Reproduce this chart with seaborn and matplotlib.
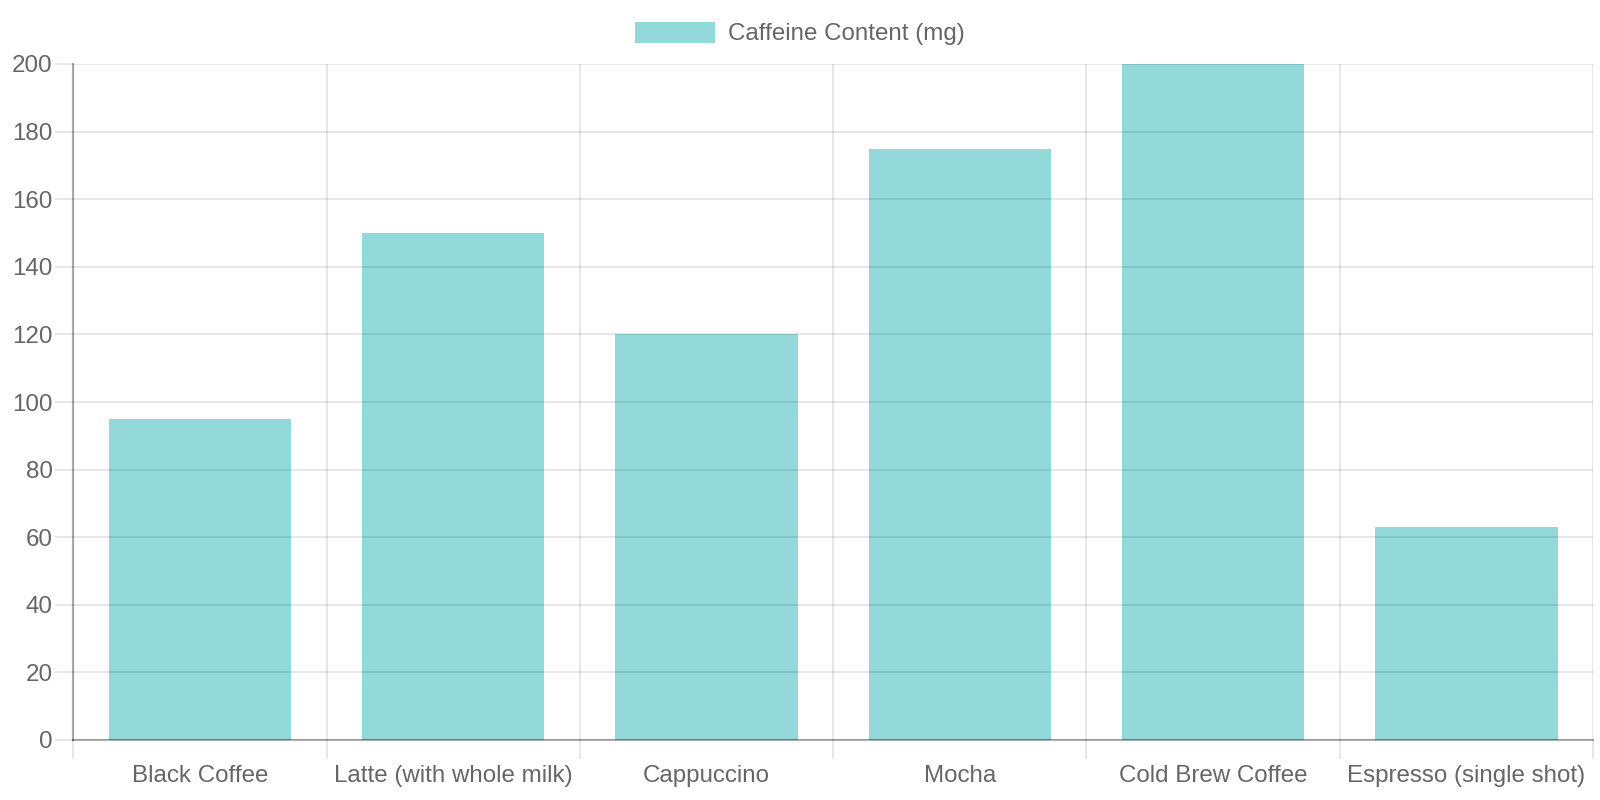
import matplotlib
matplotlib.use("Agg")
import matplotlib.pyplot as plt
import seaborn as sns
import pandas as pd

categories = ["Black Coffee", "Latte (with whole milk)", "Cappuccino", "Mocha",
              "Cold Brew Coffee", "Espresso (single shot)"]
caffeine_mg = [95, 150, 120, 175, 200, 63]
series_label = "Caffeine Content (mg)"
y_ticks = [0, 20, 40, 60, 80, 100, 120, 140, 160, 180, 200]

sns.set_style("white")
plt.rcParams['font.family'] = ['Liberation Sans', 'DejaVu Sans']

TEXT = "#666666"
GRID = (0, 0, 0, 0.12)
AXIS = (0, 0, 0, 0.32)
FS = 17.4

fig = plt.figure(figsize=(16, 8), dpi=100)
ax = fig.add_axes([73.3 / 1600, 1 - 740 / 800, (1593 - 73.3) / 1600, (740 - 64) / 800])

df = pd.DataFrame({"drink": categories, "mg": caffeine_mg})
sns.barplot(data=df, x="drink", y="mg", color=(75 / 255, 192 / 255, 192 / 255),
            saturation=1, alpha=0.6, width=0.72, linewidth=0, ax=ax,
            label=series_label, errorbar=None)

ax.set_xlim(-0.5, len(categories) - 0.5)
ax.set_ylim(0, 200)
ax.set_xlabel("")
ax.set_ylabel("")

ax.set_xticks(range(len(categories)))
ax.set_xticklabels(categories)
ax.set_xticks([i - 0.5 for i in range(len(categories) + 1)], minor=True)
ax.set_yticks(y_ticks)

ax.set_axisbelow(False)
ax.xaxis.grid(True, which="minor", color="black", alpha=0.12, linewidth=1.1)
ax.xaxis.grid(False, which="major")
ax.yaxis.grid(True, which="major", color="black", alpha=0.12, linewidth=1.1)

ax.tick_params(axis="x", which="major", length=0, pad=18, labelsize=FS, labelcolor=TEXT)
ax.tick_params(axis="x", which="minor", length=13.7, width=1.1, color=GRID, bottom=True)
ax.tick_params(axis="y", which="major", length=13, width=1.1, color=GRID, pad=2.0,
               labelsize=FS, labelcolor=TEXT, left=True)

for s in ["top", "right"]:
    ax.spines[s].set_visible(False)
for s in ["left", "bottom"]:
    ax.spines[s].set_color(AXIS)
    ax.spines[s].set_linewidth(1.5)

leg = ax.legend(loc="upper center", bbox_to_anchor=(0.5, 1.0), bbox_transform=fig.transFigure,
                frameon=False, fontsize=FS, handlelength=3.3, handleheight=0.95,
                handletextpad=0.55, borderaxespad=0.5)
for t in leg.get_texts():
    t.set_color(TEXT)

fig.savefig("out.png", dpi=100, facecolor="white")
